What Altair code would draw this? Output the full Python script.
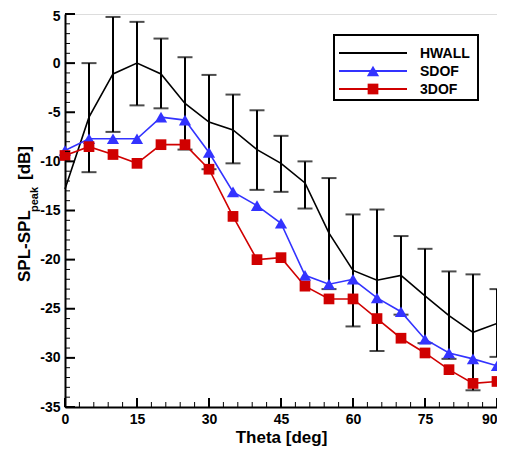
import altair as alt
import pandas as pd

# ---- data ----
theta = [0, 5, 10, 15, 20, 25, 30, 35, 40, 45, 50, 55, 60, 65, 70, 75, 80, 85, 90]
hwall = [-12.8, -5.5, -1.1, 0.0, -1.1, -4.1, -6.0, -6.8, -8.8, -10.2, -12.2,
         -17.3, -21.1, -22.1, -21.6, -23.7, -25.7, -27.4, -26.5]
sdof = [-8.9, -7.7, -7.7, -7.7, -5.5, -5.8, -9.1, -13.1, -14.5, -16.3, -21.6,
        -22.5, -22.0, -23.9, -25.3, -28.1, -29.5, -30.1, -30.8]
tdof = [-9.4, -8.5, -9.3, -10.2, -8.3, -8.3, -10.8, -15.6, -20.0, -19.8, -22.7,
        -24.0, -24.0, -26.0, -28.0, -29.5, -31.2, -32.6, -32.4]
err_theta = [5, 10, 15, 20, 25, 30, 35, 40, 45, 50, 55, 60, 65, 70, 75, 80, 85, 90]
err_hi = [0.0, 4.7, 4.2, 2.5, 0.6, -1.2, -3.2, -4.8, -7.4, -10.0, -11.7,
          -15.4, -14.9, -17.6, -18.9, -21.2, -21.5, -23.0]
err_lo = [-11.1, -7.0, -4.3, -4.6, -8.8, -10.8, -10.2, -12.9, -13.1, -14.8, -23.0,
          -26.8, -29.3, -25.6, -28.5, -30.1, -33.3, -29.9]
series_names = ["HWALL", "SDOF", "3DOF"]
series_colors = ["#000000", "#3333FF", "#D00000"]
series_shapes = [None, "triangle-up", "square"]
x_ticks = [0, 15, 30, 45, 60, 75, 90]
y_ticks = [-35, -30, -25, -20, -15, -10, -5, 0, 5]

W, H = 432, 393
FONT = "Liberation Sans"

xs = alt.Scale(domain=[0, 90], nice=False, zero=False)
ys = alt.Scale(domain=[-35, 5], nice=False, zero=False)

df = pd.DataFrame({"theta": theta, "HWALL": hwall, "SDOF": sdof, "3DOF": tdof})
edf = pd.DataFrame({"theta": err_theta, "hi": err_hi, "lo": err_lo})

xmaj = pd.DataFrame({"v": x_ticks})
xmin = pd.DataFrame({"v": [v for v in range(0, 91, 3) if v % 15 != 0]})
ymaj = pd.DataFrame({"v": y_ticks})
ymin = pd.DataFrame({"v": [v for v in range(-35, 6) if v % 5 != 0]})

X = alt.X("theta:Q", scale=xs,
          axis=alt.Axis(values=x_ticks, title="Theta [deg]", ticks=False, grid=False,
                        domainWidth=2, domainColor="black",
                        labelFont=FONT, labelFontSize=14, labelFontWeight="bold",
                        labelColor="black", labelPadding=5, labelFlush=False,
                        labelAlign=alt.ConditionalAxisLabelAlign(
                            condition={"test": "datum.value >= 90", "value": "right"},
                            value="center"),
                        titleFont=FONT, titleFontSize=17, titleFontWeight="bold",
                        titleColor="black", titlePadding=3,
                        labelExpr="'' + datum.value"))

hw_line = alt.Chart(df).mark_line(color="black", strokeWidth=1.6).encode(
    x=X,
    y=alt.Y("HWALL:Q", scale=ys,
            axis=alt.Axis(values=y_ticks, title=None, ticks=False, grid=False,
                          domainWidth=2, domainColor="black",
                          labelFont=FONT, labelFontSize=14, labelFontWeight="bold",
                          labelColor="black", labelPadding=5, labelFlush=False,
                          labelOffset=alt.ConditionalAxisNumber(
                              condition={"test": "datum.value >= 5", "value": 2},
                              value=0),
                          labelExpr="'' + datum.value")),
)

err_rule = alt.Chart(edf).mark_rule(color="black", strokeWidth=2).encode(
    x=alt.X("theta:Q", scale=xs), y=alt.Y("lo:Q", scale=ys), y2="hi:Q")
cap_hi = alt.Chart(edf).mark_tick(color="black", thickness=2, size=15,
                                  orient="horizontal", clip=True).encode(
    x=alt.X("theta:Q", scale=xs), y=alt.Y("hi:Q", scale=ys))
cap_lo = alt.Chart(edf).mark_tick(color="black", thickness=2, size=15,
                                  orient="horizontal", clip=True).encode(
    x=alt.X("theta:Q", scale=xs), y=alt.Y("lo:Q", scale=ys))

sd_line = alt.Chart(df).mark_line(color=series_colors[1], strokeWidth=1.6).encode(
    x=alt.X("theta:Q", scale=xs), y=alt.Y("SDOF:Q", scale=ys))
sd_pts = alt.Chart(df).mark_point(shape="triangle-up", filled=True, opacity=1,
                                  color=series_colors[1], size=150).encode(
    x=alt.X("theta:Q", scale=xs), y=alt.Y("SDOF:Q", scale=ys))
td_line = alt.Chart(df).mark_line(color=series_colors[2], strokeWidth=1.6).encode(
    x=alt.X("theta:Q", scale=xs), y=alt.Y("3DOF:Q", scale=ys))
td_pts = alt.Chart(df).mark_point(shape="square", filled=True, opacity=1,
                                  color=series_colors[2], size=115).encode(
    x=alt.X("theta:Q", scale=xs), y=alt.Y("3DOF:Q", scale=ys))

# inward ticks
xt_maj = alt.Chart(xmaj).mark_rule(color="black", strokeWidth=2).encode(
    x=alt.X("v:Q", scale=xs), y=alt.value(H), y2=alt.value(H - 9))
xt_min = alt.Chart(xmin).mark_rule(color="black", strokeWidth=1).encode(
    x=alt.X("v:Q", scale=xs), y=alt.value(H), y2=alt.value(H - 5))
yt_maj = alt.Chart(ymaj).mark_rule(color="black", strokeWidth=2).encode(
    y=alt.Y("v:Q", scale=ys), x=alt.value(0), x2=alt.value(10))
yt_min = alt.Chart(ymin).mark_rule(color="black", strokeWidth=1).encode(
    y=alt.Y("v:Q", scale=ys), x=alt.value(0), x2=alt.value(5))

# y-axis title with subscript
ytitle_parts = [
    ("SPL-SPL", 17, -35.5, 268),
    ("peak", 11, -27, 198),
    ("[dB]", 17, -35.5, 166),
]
ytitle_layers = []
for txt, fs, px, py in ytitle_parts:
    ytitle_layers.append(
        alt.Chart(pd.DataFrame({"t": [txt]})).mark_text(
            angle=270, align="left", baseline="alphabetic", font=FONT,
            fontSize=fs, fontWeight="bold", color="black").encode(
            text="t:N", x=alt.value(px), y=alt.value(py)))

# legend
lx0, lx1, ly0, ly1 = 269, 413, 21, 86
legend_layers = [
    alt.Chart(pd.DataFrame({"a": [0]})).mark_rect(
        fill="white", stroke="black", strokeWidth=2).encode(
        x=alt.value(lx0), x2=alt.value(lx1), y=alt.value(ly0), y2=alt.value(ly1))
]
for i, (name, col, shp) in enumerate(zip(series_names, series_colors, series_shapes)):
    yy = 39 + 18 * i
    one = pd.DataFrame({"name": [name]})
    legend_layers.append(alt.Chart(one).mark_rule(color=col, strokeWidth=2).encode(
        x=alt.value(274), x2=alt.value(342), y=alt.value(yy)))
    if shp:
        legend_layers.append(alt.Chart(one).mark_point(
            shape=shp, filled=True, opacity=1, color=col,
            size=150 if shp == "triangle-up" else 115).encode(
            x=alt.value(308), y=alt.value(yy)))
    legend_layers.append(alt.Chart(one).mark_text(
        align="left", baseline="middle", font=FONT, fontSize=14,
        fontWeight="bold", color="black").encode(
        text="name:N", x=alt.value(355), y=alt.value(yy + 1)))

chart = alt.layer(
    err_rule, cap_hi, cap_lo, hw_line, sd_line, sd_pts, td_line, td_pts,
    xt_maj, xt_min, yt_maj, yt_min, *ytitle_layers, *legend_layers
).properties(
    width=W, height=H,
    autosize=alt.AutoSizeParams(type="none"),
    padding={"left": 57, "top": 6, "right": 0, "bottom": 44},
).configure_view(stroke=None).configure(background="white")

chart.save("out.html", embed_options={"renderer": "svg", "actions": False})
